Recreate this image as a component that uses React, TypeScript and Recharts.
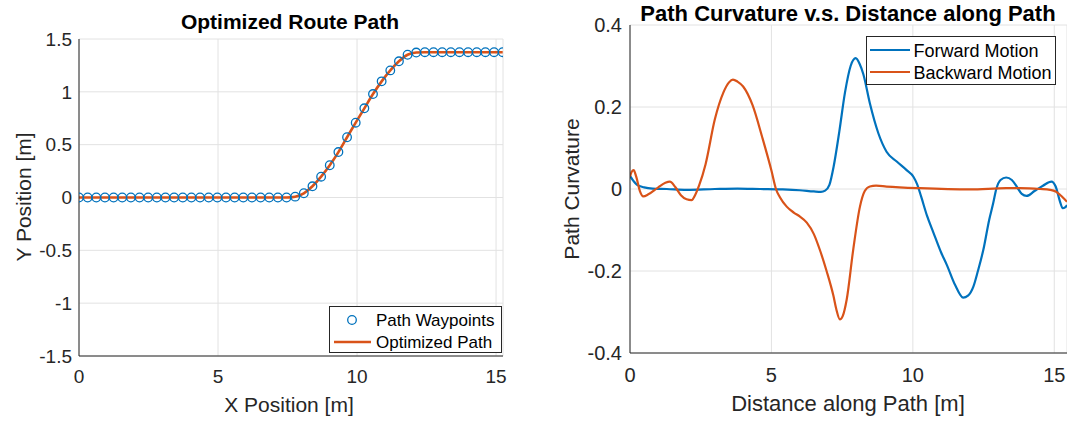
import React from 'react';
import { ComposedChart, LineChart, Line, Scatter, XAxis, YAxis, CartesianGrid } from 'recharts';

// ---- Route path (left panel) ----
const waypointX = [
  0, 0.311, 0.622, 0.933, 1.244, 1.555, 1.866, 2.177, 2.488, 2.799,
  3.11, 3.421, 3.732, 4.043, 4.354, 4.665, 4.976, 5.287, 5.598, 5.909,
  6.22, 6.531, 6.842, 7.153, 7.464, 7.775, 8.086, 8.397, 8.708, 9.019,
  9.33, 9.641, 9.952, 10.263, 10.574, 10.885, 11.196, 11.507, 11.818, 12.129,
  12.44, 12.751, 13.062, 13.373, 13.684, 13.995, 14.306, 14.617, 14.928, 15.239,
];
const waypointY = [
  0, 0, 0, 0, 0, 0, 0, 0, 0, 0,
  0, 0, 0, 0, 0, 0, 0, 0, 0, 0,
  0, 0, 0, 0, 0, 0.008, 0.04, 0.106, 0.197, 0.305,
  0.43, 0.57, 0.708, 0.844, 0.979, 1.099, 1.203, 1.289, 1.351, 1.372,
  1.375, 1.375, 1.375, 1.375, 1.375, 1.375, 1.375, 1.375, 1.375, 1.375,
];
const routeXTicks = [0, 5, 10, 15];
const routeYTicks = [-1.5, -1, -0.5, 0, 0.5, 1, 1.5];

// ---- Curvature (right panel) ----
const forwardDistance = [
  0, 0.12, 0.25, 0.5, 0.8, 1.3, 2.0, 3.0, 3.8, 4.6, 5.4, 6.0, 6.5, 6.75, 6.9,
  7.05, 7.2, 7.4, 7.6, 7.8, 7.98, 8.12, 8.25, 8.48, 8.78, 9.07, 9.43, 9.78,
  10.02, 10.15, 10.3, 10.5, 10.72, 11.0, 11.2, 11.5, 11.78, 11.95, 12.14, 12.3,
  12.49, 12.7, 12.84, 12.95, 13.1, 13.3, 13.5, 13.7, 13.85, 14.02, 14.3, 14.6,
  14.9, 15.05, 15.2, 15.3, 15.38, 15.45,
];
const forwardCurvature = [
  0.032, 0.02, 0.01, 0.004, 0.001, 0, -0.002, 0, 0.001, 0, -0.001, -0.003, -0.006, -0.007, -0.004,
  0.01, 0.055, 0.14, 0.235, 0.3, 0.319, 0.305, 0.28, 0.209, 0.136, 0.091, 0.067, 0.046,
  0.03, 0.012, -0.02, -0.065, -0.105, -0.155, -0.185, -0.235, -0.265, -0.26, -0.238, -0.2,
  -0.149, -0.075, -0.035, 0, 0.022, 0.028, 0.022, 0.003, -0.012, -0.017, -0.005, 0.008,
  0.018, 0.006, -0.03, -0.047, -0.045, -0.039,
];
const backwardDistance = [
  0, 0.06, 0.13, 0.22, 0.35, 0.47, 0.65, 1.0, 1.25, 1.41, 1.6, 1.8, 2.0, 2.18, 2.3,
  2.45, 2.67, 3.0, 3.3, 3.5, 3.64, 3.8, 4.0, 4.33, 4.68, 5.0, 5.16, 5.3, 5.54, 5.8,
  6.0, 6.25, 6.5, 6.72, 6.95, 7.19, 7.3, 7.42, 7.52, 7.66, 7.89, 8.13, 8.3, 8.48,
  8.7, 9.07, 10.25, 12.02, 13.3, 13.79, 14.5, 14.85, 15.05, 15.2, 15.35, 15.45,
];
const backwardCurvature = [
  0.03, 0.042, 0.046, 0.03, -0.005, -0.018, -0.013, 0.004, 0.015, 0.018, 0.005, -0.015, -0.025, -0.027, -0.015,
  0.01, 0.06, 0.17, 0.235, 0.26, 0.267, 0.262, 0.25, 0.205, 0.125, 0.045, 0, -0.02, -0.043, -0.058,
  -0.067, -0.082, -0.11, -0.15, -0.2, -0.26, -0.295, -0.318, -0.31, -0.27, -0.149, -0.043, -0.005, 0.006,
  0.008, 0.006, 0.002, -0.001, 0.002, 0.002, 0, -0.002, -0.006, -0.014, -0.024, -0.031,
];
const curvXTicks = [0, 5, 10, 15];
const curvYTicks = [-0.4, -0.2, 0, 0.2, 0.4];

const BLUE = '#0072BD';
const ORANGE = '#D95319';
const INK = '#262626';
const GRID = '#e2e2e2';
const FONT = '"Liberation Sans", Arial, Helvetica, sans-serif';

const waypoints = waypointX.map((x, i) => ({ x, y: waypointY[i] }));
const forward = forwardDistance.map((d, i) => ({ d, k: forwardCurvature[i] }));
const backward = backwardDistance.map((d, i) => ({ d, k: backwardCurvature[i] }));

const OpenCircle = (props: any) => (
  <circle cx={props.cx} cy={props.cy} r={4.3} fill="none" stroke={BLUE} strokeWidth={1.3} />
);

export default function App() {
  const leftTick = { fill: INK, fontSize: 19, fontFamily: FONT };
  const rightTick = { fill: INK, fontSize: 20, fontFamily: FONT };
  return (
    <div style={{ position: 'absolute', left: 0, top: 0, width: 1067, height: 423, background: '#fff', overflow: 'hidden' }}>
      <div style={{ position: 'absolute', left: 0, top: 0 }}>
        <ComposedChart width={530} height={423} margin={{ top: 39, right: 27, bottom: 37, left: 0 }}>
          <CartesianGrid stroke={GRID} strokeWidth={1} />
          <XAxis
            type="number"
            dataKey="x"
            domain={[0, 15.25]}
            ticks={routeXTicks}
            tickSize={0}
            tickMargin={14}
            height={30}
            stroke={INK}
            tick={leftTick}
            allowDataOverflow
          />
          <YAxis
            type="number"
            dataKey="y"
            domain={[-1.5, 1.5]}
            ticks={routeYTicks}
            tickSize={0}
            tickMargin={7}
            width={79}
            stroke={INK}
            tick={leftTick}
            allowDataOverflow
          />
          <Scatter data={waypoints} dataKey="y" shape={OpenCircle} isAnimationActive={false} />
          <Line
            data={waypoints}
            dataKey="y"
            type="monotone"
            stroke={ORANGE}
            strokeWidth={2.6}
            dot={false}
            activeDot={false}
            isAnimationActive={false}
          />
        </ComposedChart>
      </div>
      <div style={{ position: 'absolute', left: 540, top: 0 }}>
        <LineChart width={527} height={423} margin={{ top: 25, right: 0, bottom: 40, left: 0 }}>
          <CartesianGrid stroke={GRID} strokeWidth={1} />
          <XAxis
            type="number"
            dataKey="d"
            domain={[0, 15.45]}
            ticks={curvXTicks}
            tickSize={0}
            tickMargin={15}
            height={30}
            stroke={INK}
            tick={rightTick}
            allowDataOverflow
          />
          <YAxis
            type="number"
            dataKey="k"
            domain={[-0.4, 0.4]}
            ticks={curvYTicks}
            tickSize={0}
            tickMargin={8}
            width={90}
            stroke={INK}
            tick={rightTick}
            allowDataOverflow
          />
          <Line data={forward} dataKey="k" type="monotone" stroke={BLUE} strokeWidth={2.2} dot={false} activeDot={false} isAnimationActive={false} />
          <Line data={backward} dataKey="k" type="monotone" stroke={ORANGE} strokeWidth={2.2} dot={false} activeDot={false} isAnimationActive={false} />
        </LineChart>
      </div>
      <svg
        width={1067}
        height={423}
        style={{ position: 'absolute', left: 0, top: 0, pointerEvents: 'none' }}
        fontFamily={FONT}
      >
        {/* titles */}
        <text x={290} y={29} textAnchor="middle" fontSize={21} fontWeight="bold" fill="#000">Optimized Route Path</text>
        <text x={848} y={21} textAnchor="middle" fontSize={22} fontWeight="bold" fill="#000">Path Curvature v.s. Distance along Path</text>
        {/* axis labels */}
        <text x={289} y={412} textAnchor="middle" fontSize={21} fill={INK}>X Position [m]</text>
        <text transform="translate(31,197) rotate(-90)" textAnchor="middle" fontSize={21} fill={INK}>Y Position [m]</text>
        <text x={848} y={411} textAnchor="middle" fontSize={22} fill={INK}>Distance along Path [m]</text>
        <text transform="translate(579,189) rotate(-90)" textAnchor="middle" fontSize={21} fill={INK}>Path Curvature</text>
        {/* left legend */}
        <rect x={329.5} y={306.5} width={172} height={46} fill="#fff" stroke={INK} strokeWidth={1} />
        <circle cx={352} cy={320} r={4.3} fill="none" stroke={BLUE} strokeWidth={1.3} />
        <text x={376} y={326} fontSize={17} fill="#000">Path Waypoints</text>
        <line x1={334} y1={342} x2={371} y2={342} stroke={ORANGE} strokeWidth={2.6} />
        <text x={376} y={348} fontSize={17} fill="#000">Optimized Path</text>
        {/* right legend */}
        <rect x={866.5} y={36.5} width={189} height={48} fill="#fff" stroke={INK} strokeWidth={1} />
        <line x1={870} y1={50} x2={910} y2={50} stroke={BLUE} strokeWidth={2.2} />
        <text x={913.5} y={56.5} fontSize={18} fill="#000">Forward Motion</text>
        <line x1={870} y1={72} x2={910} y2={72} stroke={ORANGE} strokeWidth={2.2} />
        <text x={913.5} y={78.5} fontSize={18} fill="#000">Backward Motion</text>
      </svg>
    </div>
  );
}
